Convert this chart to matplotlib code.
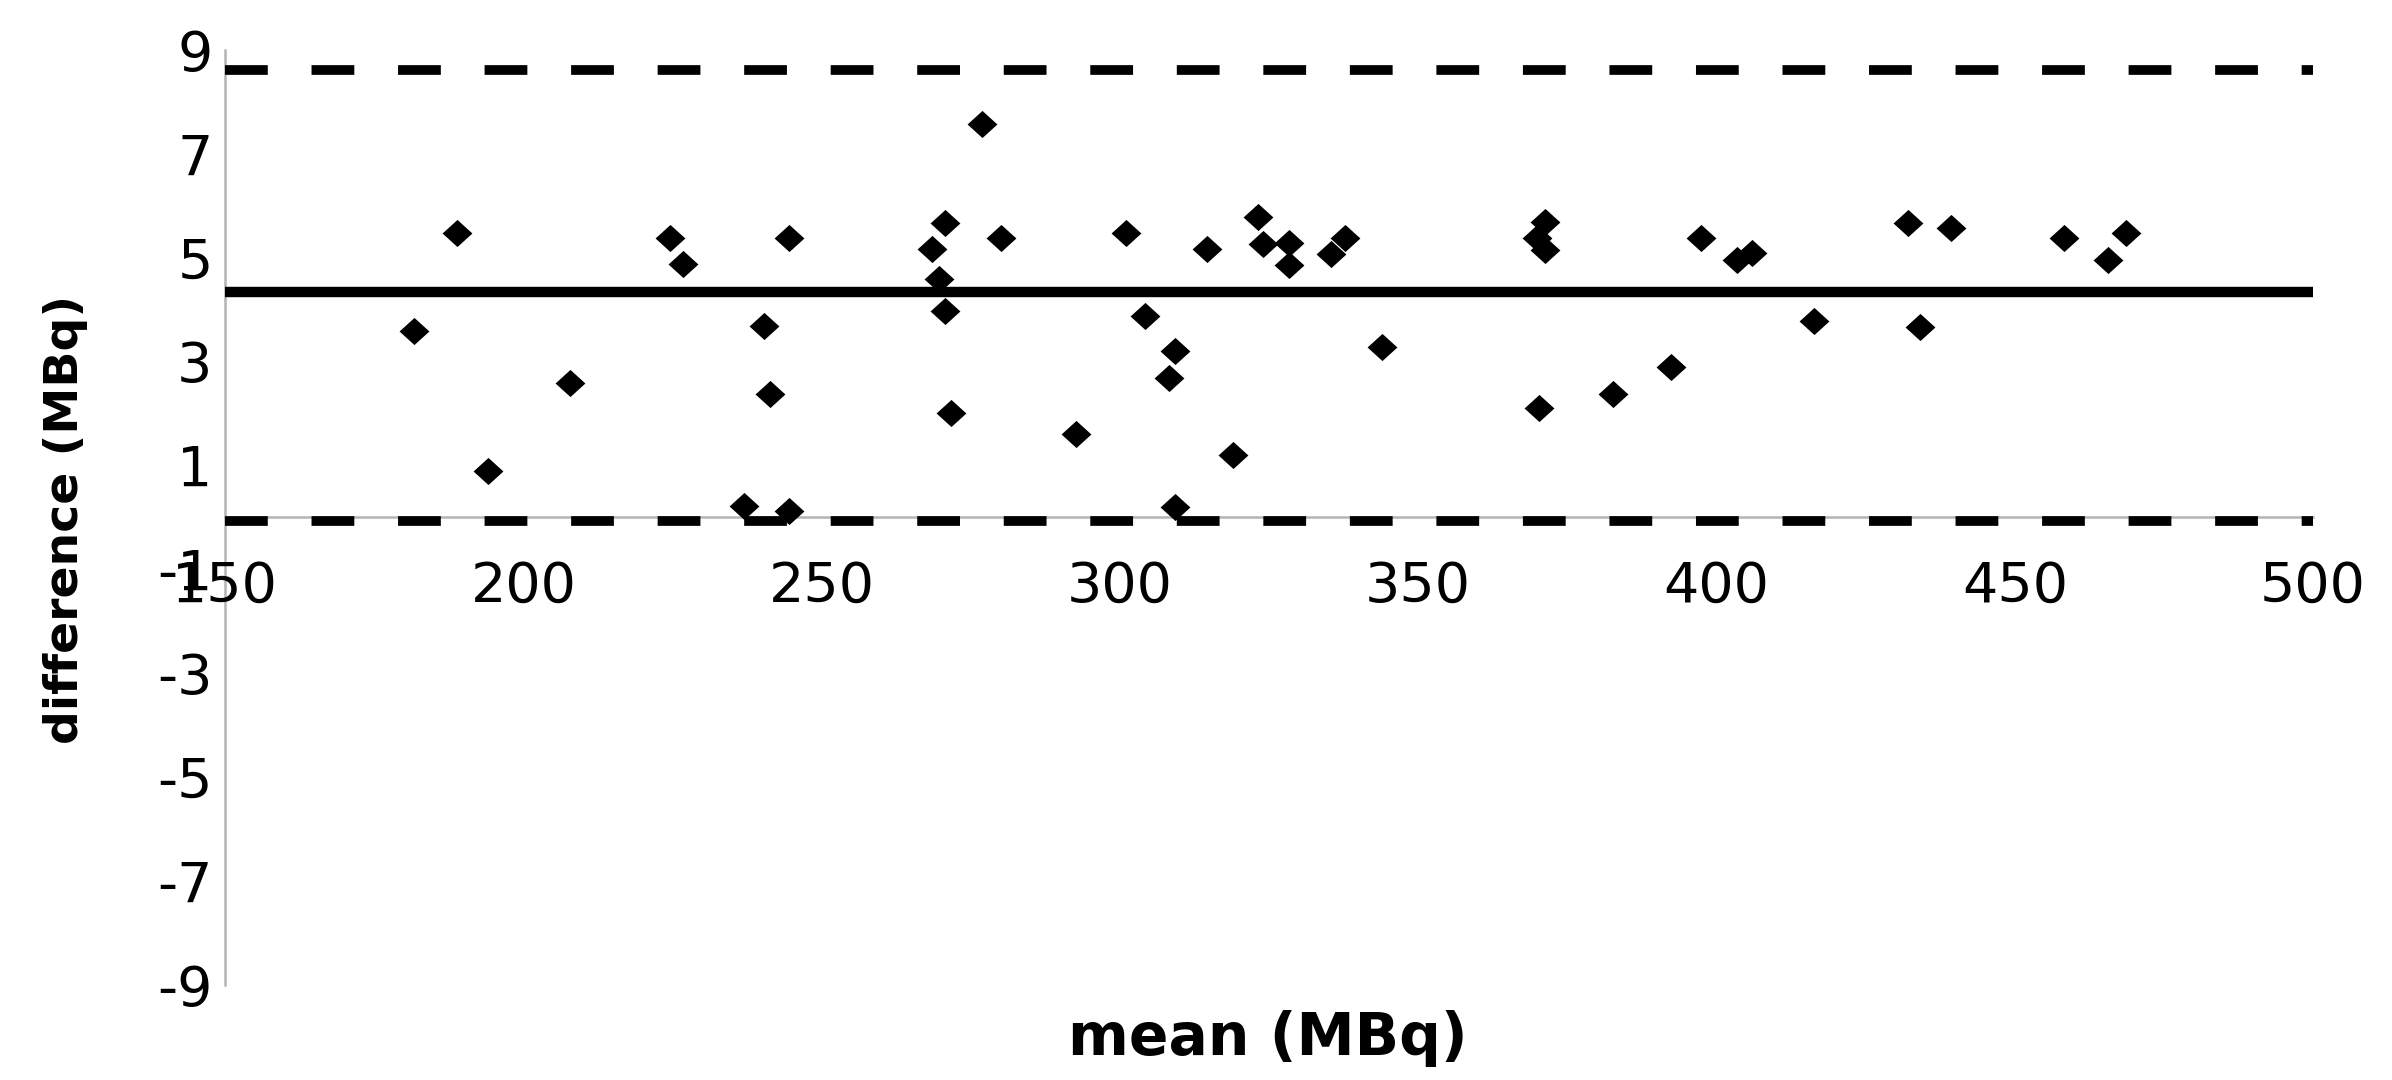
import matplotlib
matplotlib.use("Agg")
import matplotlib.pyplot as plt
from matplotlib.path import Path

# Bland-Altman data
mean_mbq = [188.9, 224.6, 226.7, 181.6, 207.8, 194.1,
            244.5, 240.3, 241.4, 237.0, 244.5,
            276.9, 270.6, 268.5, 269.6, 270.6, 280.0, 271.6, 292.7,
            301.0, 304.2, 309.3, 308.3, 309.3,
            314.6, 323.1, 323.9, 328.3, 328.3, 335.3, 337.8, 318.9, 344.0,
            371.2, 369.9, 371.2, 370.3, 382.7, 392.3,
            397.4, 403.5, 405.9, 416.4, 432.1, 434.1, 439.3,
            458.2, 465.6, 468.7]
diff_mbq = [5.47, 5.37, 4.87, 3.58, 2.59, 0.89,
            5.37, 3.68, 2.38, 0.22, 0.11,
            7.56, 5.67, 5.16, 4.59, 3.97, 5.37, 2.00, 1.60,
            5.48, 3.87, 3.19, 2.68, 0.20,
            5.16, 5.78, 5.25, 5.27, 4.85, 5.07, 5.37, 1.20, 3.28,
            5.69, 5.37, 5.14, 2.10, 2.38, 2.89,
            5.37, 4.96, 5.09, 3.78, 5.67, 3.67, 5.57,
            5.37, 4.96, 5.48]

bias = 4.33
upper_loa = 8.61
lower_loa = -0.07

x_ticks = [150, 200, 250, 300, 350, 400, 450, 500]
y_ticks = [-9, -7, -5, -3, -1, 1, 3, 5, 7, 9]

AXIS_GREY = "#b4b4b4"


def plot_bland_altman():
    fig = plt.figure(figsize=(23.92, 10.8), dpi=100)
    ax = fig.add_axes([0.0941, 0.0883, 0.8729, 0.8657])

    # slightly wide diamond, like the stretched original
    diamond = Path([(1.1, 0), (0, 1), (-1.1, 0), (0, -1), (1.1, 0)],
                   [Path.MOVETO, Path.LINETO, Path.LINETO, Path.LINETO, Path.CLOSEPOLY])

    ax.plot([x_ticks[0], x_ticks[-1]], [bias, bias], color="black", lw=7.5,
            solid_capstyle="butt", zorder=2)
    for lim in (upper_loa, lower_loa):
        ax.plot([x_ticks[0], x_ticks[-1]], [lim, lim], color="black", lw=7,
                dashes=(4.4, 4.5), dash_capstyle="butt", zorder=2)

    ax.scatter(mean_mbq, diff_mbq, marker=diamond, s=21.5 ** 2, color="black",
               linewidths=0, zorder=3)

    ax.set_xlim(150, 500)
    ax.set_ylim(-9, 9)
    ax.set_xticks(x_ticks)
    ax.set_yticks(y_ticks)
    ax.set_xticklabels([str(v) for v in x_ticks])
    ax.set_yticklabels([str(v) for v in y_ticks])

    # x axis crosses at zero, like Excel
    for side in ("top", "right"):
        ax.spines[side].set_visible(False)
    ax.spines["bottom"].set_position(("data", 0))
    for side in ("left", "bottom"):
        ax.spines[side].set_color(AXIS_GREY)
        ax.spines[side].set_linewidth(1.8)
        ax.spines[side].set_zorder(1)

    ax.tick_params(axis="x", length=0, pad=31, labelsize=40)
    ax.tick_params(axis="y", length=0, pad=9, labelsize=40)

    ax.set_ylabel("difference (MBq)", fontsize=34, fontweight="bold", va="center")
    ax.yaxis.set_label_coords(-0.0766, 0.4975)

    fig.text(0.530, 1 - 1054.6 / 1080, "mean (MBq)", fontsize=42, fontweight="bold",
             ha="center", va="baseline")

    fig.savefig("out.png", dpi=100, facecolor="white")


if __name__ == "__main__":
    plot_bland_altman()
